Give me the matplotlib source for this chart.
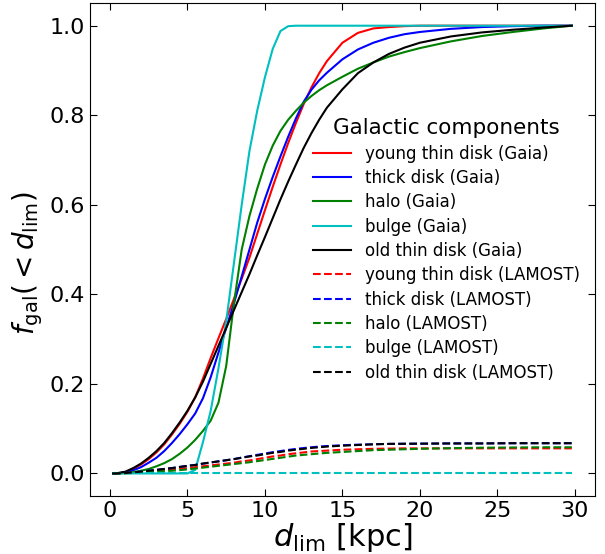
import numpy as np
import matplotlib.pyplot as plt

# distance limit grid [kpc]
d_lim = [0.2, 0.5, 1, 1.5, 2, 2.5, 3, 3.5, 4, 4.5, 5, 5.5, 6, 6.5, 7, 7.5, 8, 8.5, 9, 9.5,
         10, 10.5, 11, 11.5, 12, 12.5, 13, 13.5, 14, 15, 16, 17, 18, 19, 20, 22, 24, 26, 28, 29.8]

# Gaia cumulative fractions
young_gaia = [0, 0.0005, 0.003, 0.01, 0.02, 0.032, 0.047, 0.065, 0.087, 0.111,
              0.138, 0.17, 0.212, 0.258, 0.302, 0.345, 0.39, 0.435, 0.482, 0.535,
              0.588, 0.64, 0.69, 0.738, 0.783, 0.825, 0.862, 0.894, 0.921, 0.962,
              0.984, 0.994, 0.997, 0.999, 1.0, 1.0, 1.0, 1.0, 1.0, 1.0]
thick_gaia = [0, 0.0004, 0.002, 0.007, 0.014, 0.024, 0.035, 0.05, 0.068, 0.088,
              0.11, 0.134, 0.168, 0.215, 0.27, 0.325, 0.38, 0.44, 0.5, 0.56,
              0.613, 0.662, 0.708, 0.752, 0.793, 0.83, 0.857, 0.878, 0.895, 0.925,
              0.947, 0.962, 0.973, 0.981, 0.986, 0.993, 0.997, 0.999, 1.0, 1.0]
halo_gaia = [0, 0, 0.001, 0.003, 0.006, 0.01, 0.016, 0.023, 0.032, 0.044,
             0.058, 0.075, 0.095, 0.118, 0.158, 0.24, 0.38, 0.5, 0.575, 0.636,
             0.69, 0.732, 0.765, 0.79, 0.81, 0.828, 0.843, 0.856, 0.867, 0.886,
             0.904, 0.918, 0.931, 0.941, 0.95, 0.965, 0.977, 0.986, 0.994, 1.0]
bulge_gaia = [0, 0, 0, 0, 0, 0, 0, 0, 0, 0,
              0, 0.008, 0.07, 0.14, 0.235, 0.34, 0.47, 0.6, 0.72, 0.81,
              0.885, 0.948, 0.988, 0.999, 1.0, 1.0, 1.0, 1.0, 1.0, 1.0,
              1.0, 1.0, 1.0, 1.0, 1.0, 1.0, 1.0, 1.0, 1.0, 1.0]
old_gaia = [0, 0.0008, 0.004, 0.012, 0.022, 0.035, 0.05, 0.068, 0.09, 0.114,
            0.14, 0.17, 0.205, 0.245, 0.285, 0.325, 0.365, 0.405, 0.445, 0.487,
            0.528, 0.57, 0.612, 0.652, 0.69, 0.727, 0.76, 0.79, 0.817, 0.858,
            0.894, 0.918, 0.937, 0.951, 0.962, 0.976, 0.985, 0.991, 0.996, 1.0]

# LAMOST cumulative fractions
young_lamost = [0, 0.0005, 0.001, 0.002, 0.003, 0.0045, 0.006, 0.0075, 0.009, 0.0105,
                0.012, 0.014, 0.016, 0.018, 0.02, 0.022, 0.024, 0.027, 0.029, 0.032,
                0.035, 0.038, 0.04, 0.043, 0.045, 0.047, 0.049, 0.05, 0.051, 0.053,
                0.054, 0.055, 0.0555, 0.056, 0.056, 0.056, 0.056, 0.056, 0.056, 0.056]
thick_lamost = [0, 0.0005, 0.001, 0.0025, 0.004, 0.006, 0.008, 0.01, 0.012, 0.0145,
                0.017, 0.019, 0.022, 0.0245, 0.027, 0.0295, 0.032, 0.0355, 0.0385, 0.0415,
                0.0445, 0.0475, 0.05, 0.0525, 0.0548, 0.0568, 0.0585, 0.06, 0.0612, 0.063,
                0.0643, 0.0652, 0.066, 0.0663, 0.0665, 0.067, 0.067, 0.0675, 0.0675, 0.0675]
halo_lamost = [0, 0.0002, 0.0005, 0.001, 0.002, 0.003, 0.004, 0.005, 0.006, 0.0075,
               0.009, 0.011, 0.013, 0.015, 0.017, 0.019, 0.021, 0.023, 0.025, 0.0275,
               0.03, 0.0325, 0.035, 0.0375, 0.04, 0.0415, 0.043, 0.0445, 0.046, 0.048,
               0.05, 0.052, 0.053, 0.054, 0.055, 0.0565, 0.0575, 0.058, 0.0585, 0.0585]
bulge_lamost = [0] * len(d_lim)
old_lamost = [0, 0.0005, 0.001, 0.0025, 0.004, 0.006, 0.008, 0.01, 0.012, 0.0145,
              0.017, 0.019, 0.022, 0.0245, 0.027, 0.0295, 0.032, 0.035, 0.038, 0.04,
              0.043, 0.046, 0.048, 0.051, 0.053, 0.055, 0.057, 0.0585, 0.06, 0.062,
              0.0635, 0.065, 0.066, 0.0663, 0.0665, 0.067, 0.067, 0.0675, 0.0675, 0.0675]

labels = ['young thin disk', 'thick disk', 'halo', 'bulge', 'old thin disk']
colors = ['r', 'b', 'g', 'c', 'k']
gaia = [young_gaia, thick_gaia, halo_gaia, bulge_gaia, old_gaia]
lamost = [young_lamost, thick_lamost, halo_lamost, bulge_lamost, old_lamost]

fig, ax = plt.subplots(figsize=(6.05, 5.54), dpi=100)
fig.subplots_adjust(left=0.149, right=0.983, bottom=0.105, top=0.994)

for lab, c, f in zip(labels, colors, gaia):
    ax.plot(d_lim, f, color=c, ls='-', lw=1.5, label=lab + ' (Gaia)')
for lab, c, f in zip(labels, colors, lamost):
    ax.plot(d_lim, f, color=c, ls='--', lw=1.5, label=lab + ' (LAMOST)')

ax.set_xticks([0, 5, 10, 15, 20, 25, 30])
ax.set_yticks([0.0, 0.2, 0.4, 0.6, 0.8, 1.0])
ax.tick_params(direction='in', top=True, right=True, labelsize=16, length=5)
ax.set_xlabel(r'$d_{\rm lim}$ [kpc]', fontsize=22, labelpad=0)
ax.set_ylabel(r'$f_{\rm gal}(<d_{\rm lim})$', fontsize=20)
ax.yaxis.set_label_coords(-0.089, 0.473)

# legend without frame, sits right of the rising curves
leg = ax.legend(loc='upper right', bbox_to_anchor=(1.0, 0.797), frameon=False,
                fontsize=12, title='Galactic components', title_fontsize=15.5,
                handlelength=2.3, labelspacing=0.38)

plt.savefig('out.png', dpi=100)
